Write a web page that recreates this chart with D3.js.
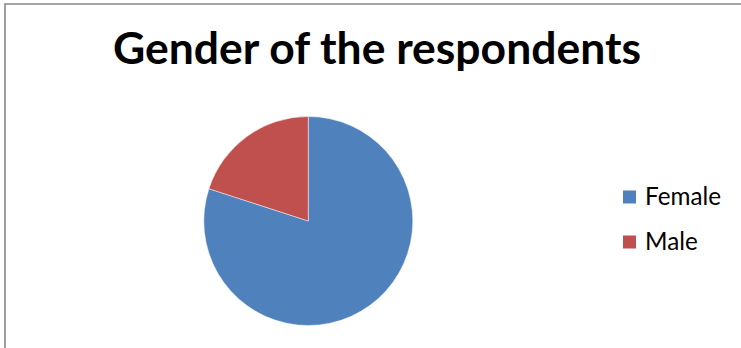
<!DOCTYPE html>
<html><head><meta charset="utf-8">
<script src="https://cdn.jsdelivr.net/npm/d3@7"></script>
<style>html,body{margin:0;padding:0;background:#fff;overflow:hidden}</style>
</head><body>
<script>
const title = "Gender of the respondents";
const categories = ["Female", "Male"];
const values = [80, 20];
const colors = ["#4F81BD", "#C0504D"];

const W = 741, H = 348;
const svg = d3.select("body").append("svg").attr("width", W).attr("height", H);
svg.append("rect").attr("x", 0).attr("y", 0).attr("width", W).attr("height", H).attr("fill", "#fff");
svg.append("path").attr("d", `M5,${H+5}V4H${W+5}`).attr("fill", "none").attr("stroke", "#888").attr("stroke-width", 1.6);

// title
const t = svg.append("text").text(title)
  .attr("x", 377).attr("y", 64).attr("text-anchor", "middle")
  .attr("font-family", "Lato, 'Open Sans', sans-serif").attr("font-weight", "bold")
  .attr("font-size", 36).attr("fill", "#000");
const tw = t.node().getComputedTextLength();
t.attr("font-size", 36 * 528 / tw);

// pie
const cx = 308.3, cy = 221, r = 104.5;
const pie = d3.pie().sort(null).value(d => d)(values);
const arc = d3.arc().innerRadius(0).outerRadius(r);
svg.append("g").attr("transform", `translate(${cx},${cy})`)
  .selectAll("path").data(pie).join("path")
  .attr("d", arc).attr("fill", (d, i) => colors[i])
  .attr("stroke", "#fff").attr("stroke-width", 0.8).attr("stroke-opacity", 0.6);

// legend
const lg = svg.append("g");
const rowY = [197, 242];
categories.forEach((c, i) => {
  lg.append("rect").attr("x", 623).attr("y", rowY[i] - 6.5).attr("width", 13).attr("height", 13).attr("fill", colors[i]);
  const lt = lg.append("text").text(c).attr("x", 645).attr("y", rowY[i] + 8)
    .attr("font-family", "Lato, 'Open Sans', sans-serif").attr("font-size", 24).attr("fill", "#000");
  if (i === 0) { const w = lt.node().getComputedTextLength(); lt.attr("font-size", 24 * 76 / w); }
  else lt.attr("font-size", lg.select("text").attr("font-size"));
});
</script>
</body></html>
